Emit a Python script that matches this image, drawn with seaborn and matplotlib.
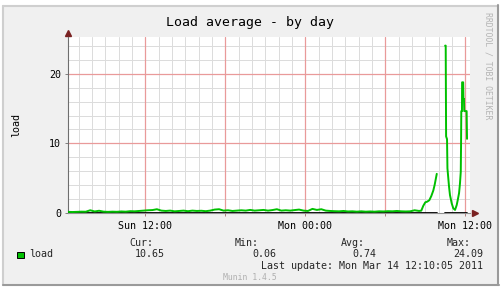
import numpy as np
import pandas as pd
import matplotlib
matplotlib.use("Agg")
import matplotlib.pyplot as plt
import seaborn as sns
from matplotlib.patches import Rectangle
from matplotlib.lines import Line2D

sns.set_theme(style="white")
plt.rcParams["font.family"] = ["DejaVu Sans Mono"]

# ---------------- data ----------------
title = "Load average - by day"
ylabel = "load"
xtick_pos = [12, 18, 24, 30, 36]
xtick_labels = ["Sun 12:00", "", "Mon 00:00", "", "Mon 12:00"]
ytick_pos = [0, 10, 20]
series_name = "load"
stat_names = ["Cur:", "Min:", "Avg:", "Max:"]
stat_values = ["10.65", "0.06", "0.74", "24.09"]
last_update = "Last update: Mon Mar 14 12:10:05 2011"
version = "Munin 1.4.5"
watermark = "RRDTOOL / TOBI OETIKER"

# hours since Sunday 00:00; early part sampled every 20 minutes from Sun 06:12
coarse_start = 6.2
coarse_step = 1 / 3
coarse_load = [
    0.12, 0.10, 0.12, 0.15, 0.14, 0.35, 0.18, 0.28, 0.15, 0.12,
    0.15, 0.13, 0.18, 0.15, 0.22, 0.20, 0.25, 0.30, 0.35, 0.38,
    0.50, 0.30, 0.25, 0.30, 0.20, 0.25, 0.30, 0.22, 0.30, 0.25,
    0.28, 0.22, 0.30, 0.45, 0.50, 0.30, 0.35, 0.25, 0.30, 0.35,
    0.30, 0.40, 0.30, 0.35, 0.40, 0.30, 0.38, 0.50, 0.30, 0.35,
    0.30, 0.38, 0.45, 0.30, 0.25, 0.55, 0.40, 0.50, 0.30, 0.25,
    0.22, 0.20, 0.25, 0.18, 0.20, 0.15, 0.20, 0.15, 0.18, 0.15,
    0.20, 0.18, 0.22, 0.20, 0.25, 0.20, 0.18, 0.20, 0.35, 0.25,
]
# late part (Mon morning), NaN = missing samples
late_hours = [32.70, 32.85, 33.00, 33.15, 33.30, 33.45, 33.60, 33.70, 33.80, 33.86,
              33.90,
              34.49, 34.53, 34.56, 34.63, 34.66, 34.78, 34.85, 34.98, 35.10,
              35.23, 35.355, 35.43, 35.53, 35.60, 35.66, 35.68, 35.70, 35.75, 35.76,
              35.84, 35.86, 35.90, 35.92, 36.10, 36.13]
late_load = [0.30, 1.00, 1.50, 1.60, 1.80, 2.40, 3.20, 4.00, 5.00, 5.60,
             np.nan,
             24.09, 24.09, 11.0, 10.6, 6.4, 3.75, 2.55, 1.35, 0.63,
             0.40, 1.10, 1.80, 2.80, 4.20, 5.90, 9.50, 14.65, 14.65, 18.8,
             18.8, 16.4, 16.4, 14.65, 14.65, 10.65]

coarse_hours = [coarse_start + i * coarse_step for i in range(len(coarse_load))]
hours = np.array(coarse_hours + late_hours)
load = np.array(coarse_load + late_load, dtype=float)
segment = np.cumsum(np.isnan(load))
df = pd.DataFrame({"hours": hours, "load": load, "segment": segment})
df["zero"] = np.where(df["load"].isna(), np.nan, 0.0)
df = df.dropna().reset_index(drop=True)

# ---------------- figure ----------------
W, H = 502, 290
fig = plt.figure(figsize=(W / 100, H / 100), dpi=100)
fig.patch.set_facecolor("white")

def fx(x):
    return x / W

def fy(y):
    return 1 - y / H

# panel background with 3D-ish border
fig.patches.append(Rectangle((fx(3), fy(285)), fx(496), 280 / H, transform=fig.transFigure,
                             facecolor="#f0f0f0", edgecolor="none", zorder=-2))
for (x0, y0, x1, y1, c) in [(3.5, 5.5, 498.5, 5.5, "#cfcfcf"), (3.5, 5.5, 3.5, 285, "#cfcfcf"),
                            (3, 284.5, 499, 284.5, "#9a9a9a"), (498.5, 5, 498.5, 285, "#9a9a9a")]:
    fig.lines.append(Line2D([fx(x0), fx(x1)], [fy(y0), fy(y1)], transform=fig.transFigure,
                            color=c, lw=1.5, zorder=-1))

ax = fig.add_axes([fx(68), 77.3 / H, 402.5 / W, 175.4 / H])
ax.set_facecolor("white")

green = "#00c000"

ax.set_xlim(6.2, 36.39)
ax.set_ylim(0, 25.29)

ax.set_xticks(xtick_pos)
ax.set_xticklabels(xtick_labels)
ax.set_xticks([h for h in range(7, 37) if h % 6], minor=True)
ax.set_yticks(ytick_pos)
ax.set_yticklabels([str(v) for v in ytick_pos])
ax.set_yticks([v for v in range(2, 25, 2) if v % 10], minor=True)

ax.grid(which="minor", color="#dcdcdc", lw=0.72, zorder=0)
ax.grid(which="major", visible=False)
# major (red) grid lines on top of the minor grid
for xv in xtick_pos:
    ax.axvline(xv, color="#e99a9a", lw=0.9, zorder=1, snap=True)
for yv in ytick_pos[1:]:
    ax.axhline(yv, color="#e99a9a", lw=0.9, zorder=1, snap=True)

sns.lineplot(data=df, x="hours", y="zero", units="segment", estimator=None, sort=False,
             color="black", lw=1.3, ax=ax, zorder=4)
sns.lineplot(data=df, x="hours", y="load", units="segment", estimator=None, sort=False,
             color=green, lw=1.4, ax=ax, zorder=5)

ax.tick_params(axis="both", which="major", labelsize=7.2, colors="#000000", length=2.5,
               width=0.7, pad=2.5, direction="out", bottom=True, left=True)
ax.tick_params(axis="x", which="major", color="#b08080", pad=3.5)
ax.tick_params(axis="y", which="major", color="#808080")
ax.tick_params(which="minor", length=0)
ax.set_xlabel("")
ax.set_ylabel("")

for s in ["top", "right"]:
    ax.spines[s].set_visible(False)
ax.spines["left"].set_color("#6e6e6e")
ax.spines["left"].set_linewidth(0.8)
ax.spines["bottom"].set_color("#909090")
ax.spines["bottom"].set_linewidth(0.8)

# axis arrows
ax.plot([0], [1.022], marker="^", ms=4, color="#7a2222", transform=ax.transAxes, clip_on=False)
ax.plot([1.01], [0], marker=">", ms=4, color="#7a2222", transform=ax.transAxes, clip_on=False)

# texts
fig.text(fx(250), fy(22.5), title, ha="center", va="center", fontsize=9.5, color="black")
fig.text(fx(16), fy(125), ylabel, ha="center", va="center", rotation=90, fontsize=7.2, color="black")
fig.text(fx(488), fy(66), watermark, ha="center", va="center", rotation=-90, fontsize=5.9,
         color="#b4b4b4")

# legend
fig.patches.append(Rectangle((fx(17.5), fy(257.5)), fx(6.5), 6 / H, transform=fig.transFigure,
                             facecolor=green, edgecolor="black", lw=0.7, zorder=3))
fig.text(fx(29), fy(254), series_name, ha="left", va="center", fontsize=7.2)
name_x = [129.3, 234.7, 341, 447]
val_x = [164.5, 276, 376, 483.5]
for n, nx, v, vx in zip(stat_names, name_x, stat_values, val_x):
    fig.text(fx(nx), fy(242.7), n, ha="left", va="center", fontsize=7.2)
    fig.text(fx(vx), fy(254), v, ha="right", va="center", fontsize=7.2)
fig.text(fx(483.5), fy(265.7), last_update, ha="right", va="center", fontsize=7.2)
fig.text(fx(250.3), fy(277.3), version, ha="center", va="center", fontsize=5.9, color="#b0b0b0")

fig.savefig("out.png", dpi=100)
